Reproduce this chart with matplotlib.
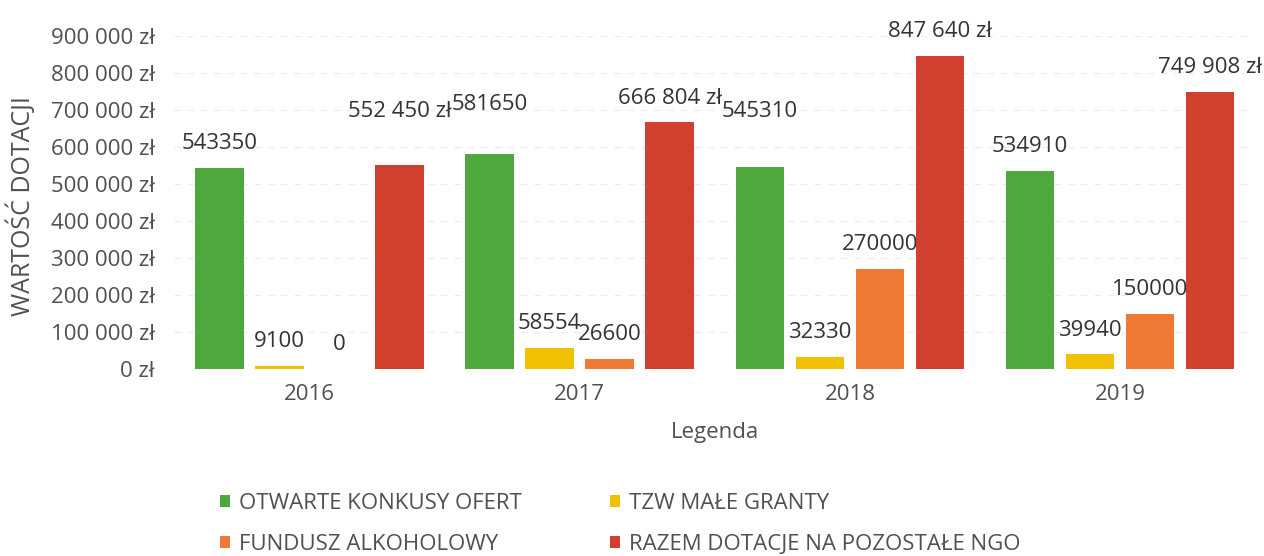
import numpy as np
import matplotlib
matplotlib.use("Agg")
import matplotlib.pyplot as plt
import matplotlib.ticker as mticker

years = ["2016", "2017", "2018", "2019"]
otwarte = [543350, 581650, 545310, 534910]
male_granty = [9100, 58554, 32330, 39940]
fundusz = [0, 26600, 270000, 150000]
razem = [552450, 666804, 847640, 749908]

series_names = ["OTWARTE KONKUSY OFERT", "TZW MAŁE GRANTY",
                "FUNDUSZ ALKOHOLOWY", "RAZEM DOTACJE NA POZOSTAŁE NGO"]
colors = ["#4fa83d", "#f3c104", "#ee7a35", "#d1402f"]

# a few value labels sit higher in the original chart (series, year) -> extra points
label_lift = {(3, 0): 21, (0, 1): 18, (0, 2): 23}

TEXT = "#505050"
plt.rcParams["font.family"] = ["Open Sans", "DejaVu Sans"]


def pln(v, _=None):
    return f"{v:,.0f}".replace(",", " ") + " zł"


fig = plt.figure(figsize=(12.64, 5.56), dpi=100)
ax = fig.add_axes([0.138, 0.336, 0.855, 0.599])

x = np.arange(len(years))
step = 0.222
width = 0.18
data = [otwarte, male_granty, fundusz, razem]
bars = []
for i, (vals, col, name) in enumerate(zip(data, colors, series_names)):
    pos = x + (i - 1.5) * step
    b = ax.bar(pos, vals, width, color=col, label=name, zorder=3)
    bars.append(b)
    for j, (p, v) in enumerate(zip(pos, vals)):
        txt = pln(v) if i == 3 else f"{v}"
        off = 10 + label_lift.get((i, j), 0)
        ax.annotate(txt, (p, v), xytext=(0, off), textcoords="offset points",
                    ha="center", va="bottom", fontsize=16, color="#333333")

ax.set_ylim(0, 900000)
ax.set_xlim(-0.5, len(years) - 0.5)
ax.yaxis.set_major_locator(mticker.MultipleLocator(100000))
ax.yaxis.set_major_formatter(mticker.FuncFormatter(pln))
ax.set_xticks(x, years)
ax.tick_params(axis="both", length=0, labelsize=16, labelcolor=TEXT)
ax.tick_params(axis="y", pad=14)
ax.tick_params(axis="x", pad=11)
ax.grid(axis="y", color="#ececec", linestyle=(0, (6, 6)), linewidth=0.8, zorder=0)
for s in ax.spines.values():
    s.set_visible(False)

ax.set_ylabel("WARTOŚĆ DOTACJI", fontsize=18, color=TEXT)
ax.yaxis.set_label_coords(-0.128, 0.49)
ax.set_xlabel("Legenda", fontsize=16, color=TEXT, labelpad=12)

order = [0, 2, 1, 3]
fig.legend([bars[k] for k in order], [series_names[k] for k in order],
           ncol=2, loc="upper left", bbox_to_anchor=(0.158, 0.15),
           frameon=False, fontsize=16, handlelength=0.45, handleheight=0.45,
           handletextpad=0.4, columnspacing=4.0, labelspacing=0.9,
           labelcolor=TEXT)

plt.savefig("out.png", dpi=100)
